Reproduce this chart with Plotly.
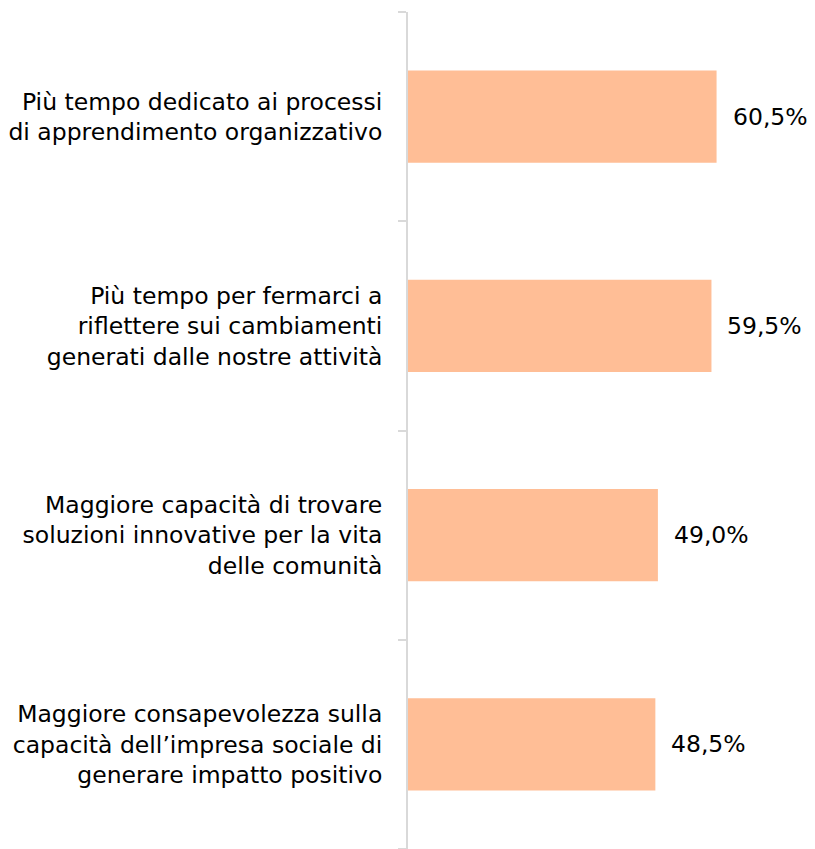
import plotly.graph_objects as go

categories = [
    "Più tempo dedicato ai processi<br>di apprendimento organizzativo",
    "Più tempo per fermarci a<br>riflettere sui cambiamenti<br>generati dalle nostre attività",
    "Maggiore capacità di trovare<br>soluzioni innovative per la vita<br>delle comunità",
    "Maggiore consapevolezza sulla<br>capacità dell’impresa sociale di<br>generare impatto positivo",
]
values = [60.5, 59.5, 49.0, 48.5]
value_labels = ["60,5%", "59,5%", "49,0%", "48,5%"]

FONT = "DejaVu Sans"
FS = 23.5

fig = go.Figure(go.Bar(
    x=values, y=categories, orientation="h",
    marker=dict(color="#FFBE96", line=dict(width=0)),
    width=0.44,
    hoverinfo="skip",
))

for c, v, t in zip(categories, values, value_labels):
    fig.add_annotation(x=v, y=c, text=t, showarrow=False, xanchor="left",
                       xshift=14, font=dict(family=FONT, size=FS, color="#000000"))

fig.update_layout(
    width=807, height=841,
    margin=dict(l=397, r=0, t=4, b=0),
    paper_bgcolor="white", plot_bgcolor="white",
    showlegend=False,
    font=dict(family=FONT, size=FS, color="#000000"),
    xaxis=dict(range=[0, 79.8], visible=False, showgrid=False, zeroline=False),
    yaxis=dict(
        categoryorder="array", categoryarray=categories[::-1],
        showline=True, linecolor="#d9d9d9", linewidth=2,
        ticks="outside", ticklen=8, tickcolor="#d9d9d9", tickwidth=2,
        tickson="boundaries", showgrid=False,
        ticklabelstandoff=19,
        tickfont=dict(family=FONT, size=FS, color="#000000"),
    ),
)

fig.write_html("out.html")
